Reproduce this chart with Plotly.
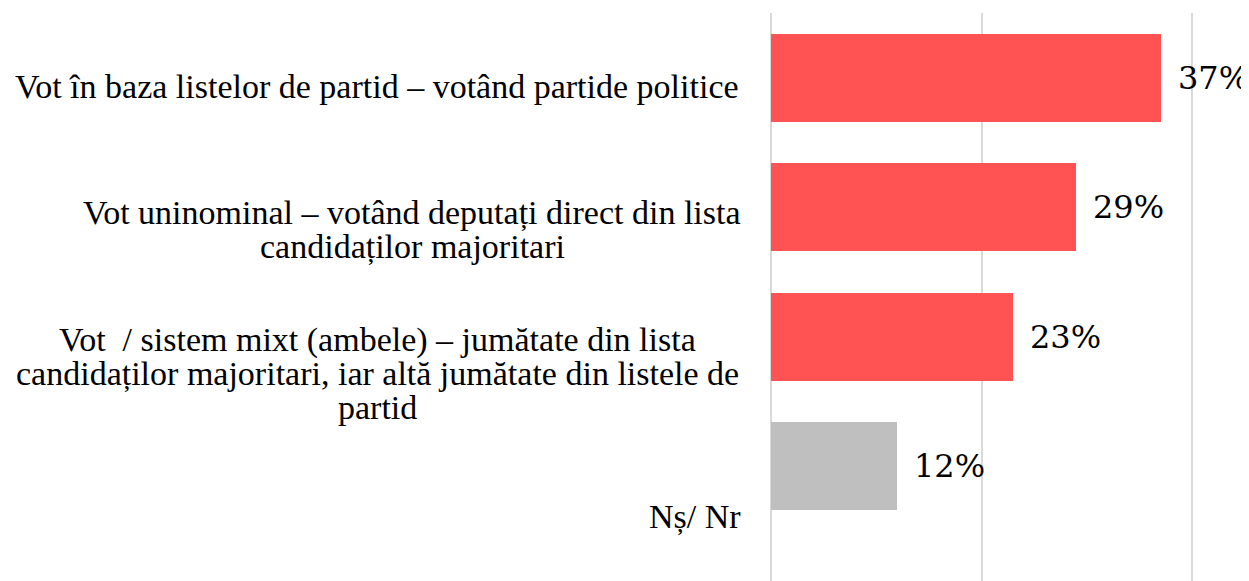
import plotly.graph_objects as go

# ---- data ----
categories = [
    ["Vot în baza listelor de partid – votând partide politice"],
    ["Vot uninominal – votând deputați direct din lista",
     "candidaților majoritari"],
    ["Vot  / sistem mixt (ambele) – jumătate din lista",
     "candidaților majoritari, iar altă jumătate din listele de",
     "partid"],
    ["Nș/ Nr"],
]
values = [37, 29, 23, 12]
value_labels = ["37%", "29%", "23%", "12%"]
bar_colors = ["#FF5252", "#FF5252", "#FF5252", "#BFBFBF"]

# ---- layout geometry (window pixels; page body has an 8px margin) ----
OFF = 8
WIN_W, WIN_H = 1249, 581
W, H = WIN_W - OFF, WIN_H - OFF
PLOT_LEFT_WIN, PLOT_TOP_WIN = 771, 13
LEFT, TOP = PLOT_LEFT_WIN - OFF, PLOT_TOP_WIN - OFF
PLOT_H = H - TOP
CAT_STEP = 129.3          # px between bar centres
FIRST_CENTER = 78 - OFF   # first bar centre in figure px
BAR_PX = 88
PX_PER_UNIT = 10.53

LABEL_FIRST_BASE = 97     # window px, centre baseline of first label
LABEL_STEP = 143.8
LINE_STEP = 34
LABEL_CENTERS_X = [377, 412, 377, 695]  # window px, horizontal centre of each label block
LABEL_FONT = 34

idx = list(range(len(categories)))

fig = go.Figure()
fig.add_trace(go.Bar(
    x=values, y=idx, orientation="h",
    marker=dict(color=bar_colors, line=dict(width=0)),
    width=BAR_PX / CAT_STEP,
    hoverinfo="skip",
))

annotations = []
for i, (v, t) in enumerate(zip(values, value_labels)):
    annotations.append(dict(
        x=v, y=i, xref="x", yref="y", text=t, showarrow=False,
        xanchor="left", yanchor="middle", xshift=15, yshift=0,
        font=dict(family="DejaVu Serif", size=32, color="#000000"),
    ))

for i, lines in enumerate(categories):
    n = len(lines)
    c = LABEL_FIRST_BASE + LABEL_STEP * i
    for k, line in enumerate(lines):
        base = c + (k - (n - 1) / 2) * LINE_STEP
        mid_win = base - 11
        annotations.append(dict(
            x=0, y=(WIN_H - mid_win) / PLOT_H, xref="paper", yref="paper",
            text=line, showarrow=False, xanchor="center", yanchor="middle",
            xshift=LABEL_CENTERS_X[i] - PLOT_LEFT_WIN,
            font=dict(family="Liberation Serif", size=LABEL_FONT, color="#000000"),
        ))

fig.update_layout(
    width=W, height=H,
    margin=dict(l=LEFT, r=0, t=TOP, b=0, pad=0),
    paper_bgcolor="white", plot_bgcolor="white",
    showlegend=False,
    bargap=0,
    xaxis=dict(
        range=[0, (W - LEFT) / PX_PER_UNIT],
        showgrid=True, gridcolor="#D9D9D9", gridwidth=2,
        tick0=0, dtick=20, showticklabels=False, ticks="",
        zeroline=True, zerolinecolor="#D9D9D9", zerolinewidth=2,
        showline=False, fixedrange=True,
    ),
    yaxis=dict(
        range=[(H - FIRST_CENTER) / CAT_STEP, (TOP - FIRST_CENTER) / CAT_STEP],
        showgrid=False, showticklabels=False, ticks="", zeroline=False,
        showline=False, fixedrange=True,
    ),
    annotations=annotations,
)

fig.write_html("out.html", config={"displayModeBar": False})
